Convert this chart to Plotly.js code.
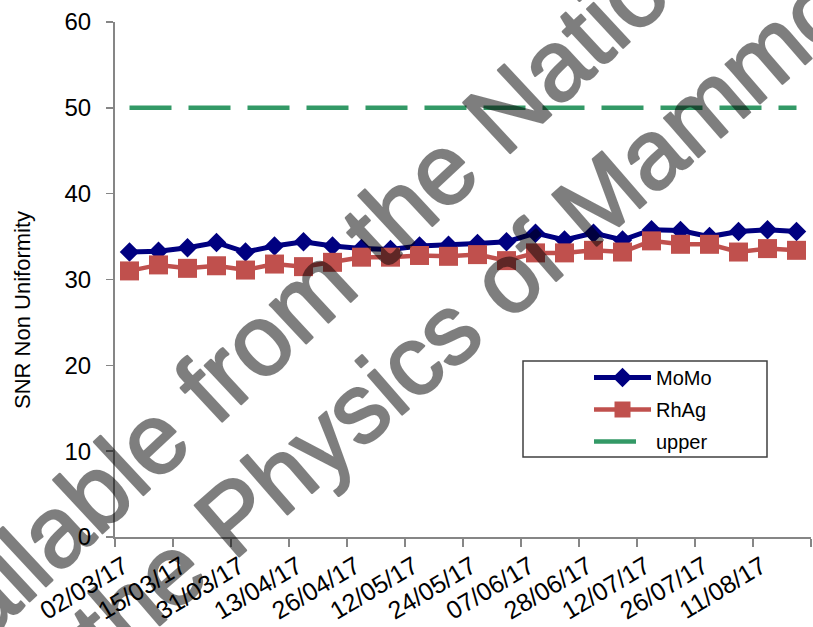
<!DOCTYPE html>
<html>
<head>
<meta charset="utf-8">
<script src="https://cdn.plot.ly/plotly-3.0.1.min.js"></script>
<style>
  html, body { margin: 0; padding: 0; background: #ffffff; }
  #chart { width: 813px; height: 627px; }
</style>
</head>
<body>
<div id="chart"></div>
<script>
// Session dates shown on the axis (every second measurement is labelled)
const dateLabels = ['02/03/17', '15/03/17', '31/03/17', '13/04/17', '26/04/17', '12/05/17',
                    '24/05/17', '07/06/17', '28/06/17', '12/07/17', '26/07/17', '11/08/17'];

// SNR non-uniformity per QC session
const momo = [33.2, 33.3, 33.7, 34.3, 33.2, 33.9, 34.4, 33.9, 33.6, 33.5, 33.9, 34.0,
              34.2, 34.4, 35.4, 34.6, 35.4, 34.6, 35.8, 35.7, 35.0, 35.6, 35.8, 35.6];
const rhag = [31.0, 31.7, 31.3, 31.6, 31.1, 31.8, 31.5, 32.0, 32.6, 32.6, 32.8, 32.7,
              32.9, 32.2, 33.1, 33.1, 33.4, 33.2, 34.5, 34.1, 34.1, 33.2, 33.6, 33.4];
const upper = [50, 50, 50, 50, 50, 50, 50, 50, 50, 50, 50, 50,
               50, 50, 50, 50, 50, 50, 50, 50, 50, 50, 50, 50];

const session = momo.map((_, i) => i);
// rotated labels end just left of their session
const labelPos = dateLabels.map((_, k) => 2 * k - 0.2);

const FONT = 'Liberation Sans, Arial, sans-serif';

const traces = [
  {
    x: session, y: momo, name: 'MoMo', type: 'scatter', mode: 'lines+markers',
    legendgroup: 'a',
    line: { color: '#000080', width: 5 },
    marker: { symbol: 'diamond', size: 15, color: '#000080' }
  },
  {
    x: session, y: rhag, name: 'RhAg', type: 'scatter', mode: 'lines+markers',
    legendgroup: 'b',
    line: { color: '#C0504D', width: 4.5 },
    marker: { symbol: 'square', size: 19, color: '#C0504D' }
  },
  {
    x: session, y: upper, name: 'upper', type: 'scatter', mode: 'lines',
    legendgroup: 'c',
    line: { color: '#339966', width: 4.5, dash: '42px,17px' }
  }
];

const layout = {
  width: 813, height: 627,
  margin: { l: 115, r: 2, t: 22, b: 90 },
  paper_bgcolor: '#ffffff', plot_bgcolor: '#ffffff',
  font: { family: FONT, color: '#000000', size: 24 },
  showlegend: true,
  legend: {
    x: (589 - 115) / 696, y: (537 - 358) / 515, xanchor: 'left', yanchor: 'top',
    bgcolor: 'rgba(255,255,255,0)', borderwidth: 0,
    font: { family: FONT, size: 20, color: '#000000' },
    itemwidth: 57,
    tracegroupgap: 3
  },
  xaxis: {
    range: [-0.5, 23.5],
    tickmode: 'array', tickvals: labelPos, ticktext: dateLabels,
    tickangle: -31, ticks: '',
    ticklabelstandoff: 3,
    showgrid: false, zeroline: false,
    showline: true, linecolor: '#868686', linewidth: 2,
    tickfont: { family: FONT, size: 25, color: '#000000' },
    minor: { tickmode: 'linear', tick0: -0.5, dtick: 2, ticks: 'outside',
             ticklen: 8, tickwidth: 1.5, tickcolor: '#868686', showgrid: false }
  },
  yaxis: {
    range: [0, 60], dtick: 10, tick0: 0,
    ticks: 'outside', ticklen: 7, tickwidth: 1.5, tickcolor: '#868686',
    showgrid: false, zeroline: false,
    showline: true, linecolor: '#868686', linewidth: 2,
    tickfont: { family: FONT, size: 24, color: '#000000' },
    ticklabelstandoff: 10
  },
  shapes: [
    // legend frame
    { type: 'rect', xref: 'paper', yref: 'paper',
      x0: (523 - 115) / 696, x1: (767 - 115) / 696, y0: (537 - 457) / 515, y1: (537 - 361) / 515,
      line: { color: '#404040', width: 1.5 }, fillcolor: 'rgba(0,0,0,0)', layer: 'below' }
  ],
  annotations: [
    // y-axis title
    { text: 'SNR Non Uniformity', xref: 'paper', yref: 'paper',
      x: (22 - 115) / 696, y: (537 - 310) / 515, xanchor: 'center', yanchor: 'middle',
      showarrow: false, textangle: -90,
      font: { family: FONT, size: 22, color: '#000000' } },
    // watermark, two diagonal lines
    { text: 'Available from the National', xref: 'paper', yref: 'paper',
      x: (312 - 115) / 696, y: (537 - 290) / 515, xanchor: 'center', yanchor: 'middle',
      showarrow: false, textangle: -43,
      font: { family: FONT, size: 100, color: '#000000' } },
    { text: 'the Physics of Mammography', xref: 'paper', yref: 'paper',
      x: (574 - 115) / 696, y: (537 - 220) / 515, xanchor: 'center', yanchor: 'middle',
      showarrow: false, textangle: -41,
      font: { family: FONT, size: 98, color: '#000000' } }
  ]
};

const gd = document.getElementById('chart');
Plotly.newPlot(gd, traces, layout, { displayModeBar: false, staticPlot: true }).then(() => {
  // watermark: heavier outline, half-transparent as a whole
  gd.querySelectorAll('.annotation').forEach(g => {
    if (g.getAttribute('data-index') === '0') return;
    const t = g.querySelector('text.annotation-text');
    if (!t) return;
    t.style.stroke = '#000000';
    t.style.strokeWidth = '2.4px';
    t.style.strokeLinejoin = 'round';
    t.setAttribute('opacity', '0.5');
  });
});
</script>
</body>
</html>
